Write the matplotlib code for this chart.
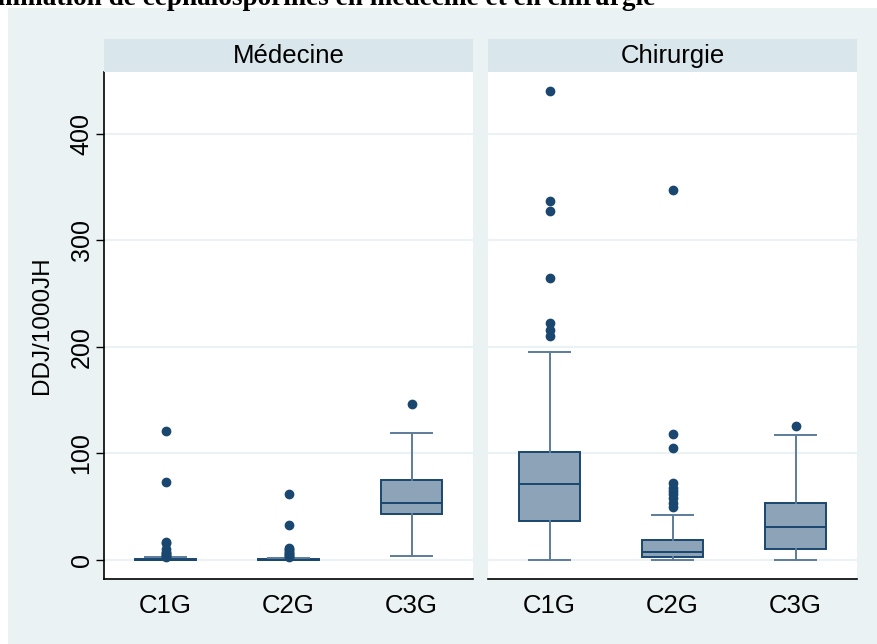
import numpy as np
import matplotlib
matplotlib.use("Agg")
import matplotlib.pyplot as plt
from matplotlib.patches import Rectangle

plt.rcParams['font.family'] = ['Liberation Sans', 'DejaVu Sans']

# valeurs (DDJ/1000JH)
categories = ["C1G", "C2G", "C3G"]
panels = ["Médecine", "Chirurgie"]

med_whislo = [0, 0, 4]
med_q1 = [0, 0, 43]
med_median = [0, 0, 53.5]
med_q3 = [1, 1, 75.5]
med_whishi = [2.5, 2, 119]
med_fliers = [
    [121, 73, 17, 16, 10, 8, 7, 6, 5, 4, 3],
    [62, 33, 11, 10, 9, 8, 7, 6, 5, 4, 3],
    [146],
]

chir_whislo = [0, 0, 0]
chir_q1 = [36.5, 3, 10]
chir_median = [71.5, 7.5, 31]
chir_q3 = [101, 19, 53.5]
chir_whishi = [195, 42, 117.5]
chir_fliers = [
    [210, 216, 222, 265, 328, 337, 440],
    [50, 53.5, 58, 62, 65, 68, 72, 105, 118, 347],
    [126],
]

yticks = [0, 100, 200, 300, 400]

navy = "#1A476F"
boxfill = "#8DA3B7"
whisk = "#5B7C9B"
bg = "#EAF2F3"
strip = "#D9E6EB"


def make_stats(whislo, q1, med, q3, whishi, fliers):
    stats = []
    for i in range(len(categories)):
        stats.append(dict(whislo=whislo[i], q1=q1[i], med=med[i], q3=q3[i],
                          whishi=whishi[i], fliers=fliers[i], label=categories[i]))
    return stats


W, H = 877, 644
fig = plt.figure(figsize=(W / 100, H / 100), dpi=100, facecolor="white")
fig.patches.append(Rectangle((8 / W, 0), 1 - 8 / W, 1 - 8 / H, transform=fig.transFigure,
                             facecolor=bg, edgecolor="none", zorder=-10))

# titre coupé en haut, comme sur l'original
fig.text(655 / W, 1 - 5 / H, "Consommation de céphalosporines en médecine et en chirurgie",
         ha="right", va="baseline", fontsize=19.6, fontweight="bold",
         family=["Liberation Serif", "DejaVu Serif"])

all_stats = [
    make_stats(med_whislo, med_q1, med_median, med_q3, med_whishi, med_fliers),
    make_stats(chir_whislo, chir_q1, chir_median, chir_q3, chir_whishi, chir_fliers),
]

lefts = [104, 488]
pw = 369
top, bottom = 72, 579

for k, x0 in enumerate(lefts):
    ax = fig.add_axes([x0 / W, 1 - bottom / H, pw / W, (bottom - top) / H])
    ax.set_facecolor("white")
    ax.bxp(all_stats[k], positions=[1, 2, 3], widths=0.49, patch_artist=True,
           capwidths=0.33,
           boxprops=dict(facecolor=boxfill, edgecolor=navy, linewidth=1.4),
           medianprops=dict(color=navy, linewidth=1.4),
           whiskerprops=dict(color=whisk, linewidth=1.4),
           capprops=dict(color=whisk, linewidth=1.4),
           flierprops=dict(marker="o", markersize=6, markerfacecolor=navy,
                           markeredgecolor=navy, linestyle="none"))
    ax.set_xlim(0.5, 3.5)
    ax.set_ylim(-17.8, 458)
    ax.set_yticks(yticks)
    for t in yticks:
        ax.axhline(t, color=bg, linewidth=1.5, zorder=0)
    ax.tick_params(axis="x", length=0, pad=11, labelsize=18.5)
    for s in ["top", "right"]:
        ax.spines[s].set_visible(False)
    ax.spines["bottom"].set_color("black")
    ax.spines["bottom"].set_linewidth(1.2)
    if k == 0:
        ax.spines["left"].set_color("black")
        ax.spines["left"].set_linewidth(1.2)
        ax.tick_params(axis="y", length=6, width=1, pad=1.5, labelsize=18)
        for lab in ax.get_yticklabels():
            lab.set_rotation(90)
            lab.set_va("center")
        ax.set_ylabel("DDJ/1000JH", fontsize=17.5, labelpad=12)
    else:
        ax.spines["left"].set_visible(False)
        ax.tick_params(axis="y", left=False, labelleft=False)

    sax = fig.add_axes([x0 / W, 1 - top / H, pw / W, 33 / H])
    sax.set_facecolor(strip)
    sax.set_xticks([])
    sax.set_yticks([])
    for s in sax.spines.values():
        s.set_visible(False)
    sax.text(0.5, 0.48, panels[k], ha="center", va="center", fontsize=18.5,
             transform=sax.transAxes)

fig.savefig("out.png", dpi=100, facecolor="white")
